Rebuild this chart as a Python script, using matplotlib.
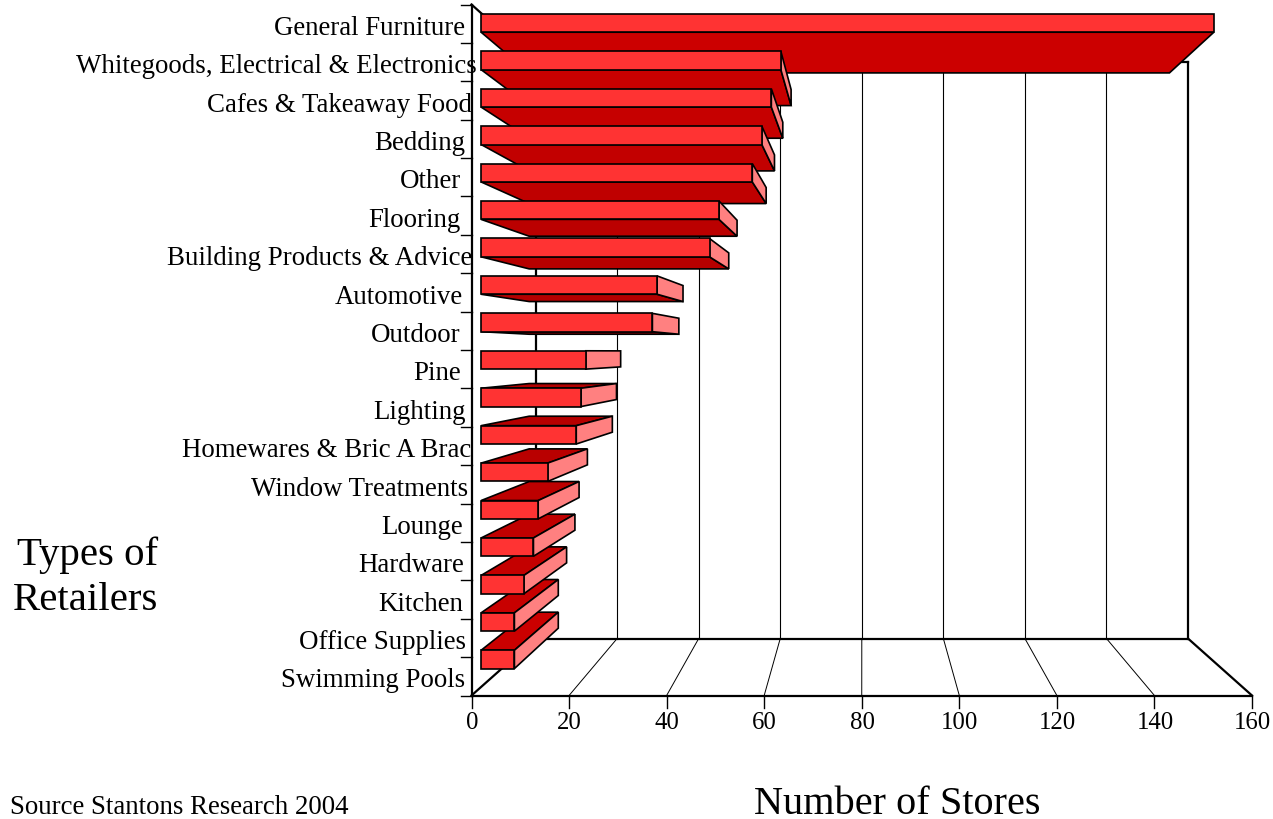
import matplotlib
matplotlib.use('Agg')
import matplotlib.pyplot as plt
from matplotlib.patches import Polygon

plt.rcParams['font.family'] = ['Liberation Serif', 'DejaVu Serif']

# listed from the top of the chart down
categories = ['General Furniture', 'Whitegoods, Electrical & Electronics', 'Cafes & Takeaway Food',
              'Bedding', 'Other', 'Flooring', 'Building Products & Advice', 'Automotive', 'Outdoor',
              'Pine', 'Lighting', 'Homewares & Bric A Brac', 'Window Treatments', 'Lounge',
              'Hardware', 'Kitchen', 'Office Supplies', 'Swimming Pools']
stores = [154, 63, 61, 59, 57, 50, 48, 37, 36, 22, 21, 20, 14, 12, 11, 9, 7, 7]
x_ticks = [0, 20, 40, 60, 80, 100, 120, 140, 160]
label_left = [274, 76, 207, 374, 400, 368, 167, 335, 371, 413, 373, 182, 251, 381, 358, 378, 299, 281]

FRONT = (471.5, 1252.0, 696.5, 5.5)   # x at 0, x at 160, floor y, top y
BACK = (535.6, 1188.0, 639.5, 63.0)
XMAX = 160.0
NROW = len(categories)
BAR_LOW, BAR_HIGH = 0.49, 0.98        # bar position inside its row
D0, D1 = 0.15, 0.90                   # bar depth


def project(v, level, depth):
    # value, row level (0 to NROW), depth (0 front, 1 back wall) -> canvas position
    fx = FRONT[0] + (FRONT[1] - FRONT[0]) * v / XMAX
    bx = BACK[0] + (BACK[1] - BACK[0]) * v / XMAX
    t = level / NROW
    fy = FRONT[2] + (FRONT[3] - FRONT[2]) * t
    by = BACK[2] + (BACK[3] - BACK[2]) * t
    return fx + (bx - fx) * depth, fy + (by - fy) * depth


def line(ax, a, b, lw=1.6, color='black'):
    ax.plot([a[0], b[0]], [a[1], b[1]], color=color, lw=lw, solid_capstyle='projecting', zorder=1)


fig = plt.figure(figsize=(12.73, 8.2), dpi=100)
ax = fig.add_axes([0, 0, 1, 1])
ax.set_xlim(0, 1273)
ax.set_ylim(820, 0)
ax.axis('off')

# walls and floor
for v in x_ticks[1:-1]:
    line(ax, project(v, 0, 0), project(v, 0, 1), lw=0.7)
    line(ax, project(v, 0, 1), project(v, NROW, 1), lw=0.8)
for v in x_ticks:
    a = project(v, 0, 0)
    line(ax, a, (a[0], a[1] + 12), lw=1.0)
line(ax, project(0, 0, 0), project(160, 0, 0))
line(ax, project(0, 0, 0), project(0, NROW, 0))
line(ax, project(0, 0, 0), project(0, 0, 1))
line(ax, project(0, NROW, 0), project(0, NROW, 1))
line(ax, project(0, 0, 1), project(160, 0, 1))
line(ax, project(0, 0, 1), project(0, NROW, 1))
line(ax, project(0, NROW, 1), project(160, NROW, 1))
line(ax, project(160, 0, 1), project(160, NROW, 1))
line(ax, project(160, 0, 0), project(160, 0, 1))
for r in range(NROW + 1):
    a = project(0, r, 0)
    line(ax, (a[0] - 11, a[1]), a, lw=1.0)

# row 0 is the bottom bar, eye level is where a wall row lines up with the front
eye = NROW * (FRONT[2] - BACK[2]) / ((FRONT[2] - FRONT[3]) - (BACK[2] - BACK[3]))
rows = [(NROW - 1 - i, stores[i]) for i in range(NROW)]
rows.sort(key=lambda r: -abs(r[0] + 0.7 - eye))

z = 2
for r, v in rows:
    lo, hi = r + BAR_LOW, r + BAR_HIGH
    # flat faces get darker toward eye level
    shade = min(0xCC, 0xAE + int(abs(r + 0.7 - eye) * 3.6))
    flat = '#%02X0000' % shade
    polys = []
    if lo > eye:
        polys.append(([project(0, lo, D0), project(v, lo, D0), project(v, lo, D1), project(0, lo, D1)], flat))
    if hi < eye:
        polys.append(([project(0, hi, D0), project(v, hi, D0), project(v, hi, D1), project(0, hi, D1)], flat))
    if project(v, lo, D1)[0] > project(v, lo, D0)[0]:
        polys.append(([project(v, lo, D0), project(v, hi, D0), project(v, hi, D1), project(v, lo, D1)], '#FF8080'))
    polys.append(([project(0, lo, D0), project(v, lo, D0), project(v, hi, D0), project(0, hi, D0)], '#FF3333'))
    for pts, col in polys:
        ax.add_patch(Polygon(pts, closed=True, facecolor=col, edgecolor='black', lw=1.2, joinstyle='miter', zorder=z))
        z += 1

# category names sit a little above each row's lower tick
for i, name in enumerate(categories):
    y = project(0, NROW - 1 - i, 0)[1] - 9
    ax.text(label_left[i], y, name, fontsize=19.4, ha='left', va='baseline', color='black', zorder=200)

for v in x_ticks:
    a = project(v, 0, 0)
    ax.text(a[0] + 0.5, 729, str(v), fontsize=17.8, ha='center', va='baseline', zorder=200)

ax.text(17, 565, 'Types of', fontsize=29.4, ha='left', va='baseline')
ax.text(13, 610, 'Retailers', fontsize=29.4, ha='left', va='baseline')
ax.text(754, 814, 'Number of Stores', fontsize=29, ha='left', va='baseline')
ax.text(10, 814, 'Source Stantons Research 2004', fontsize=19.4, ha='left', va='baseline')

fig.savefig('out.png', dpi=100)
